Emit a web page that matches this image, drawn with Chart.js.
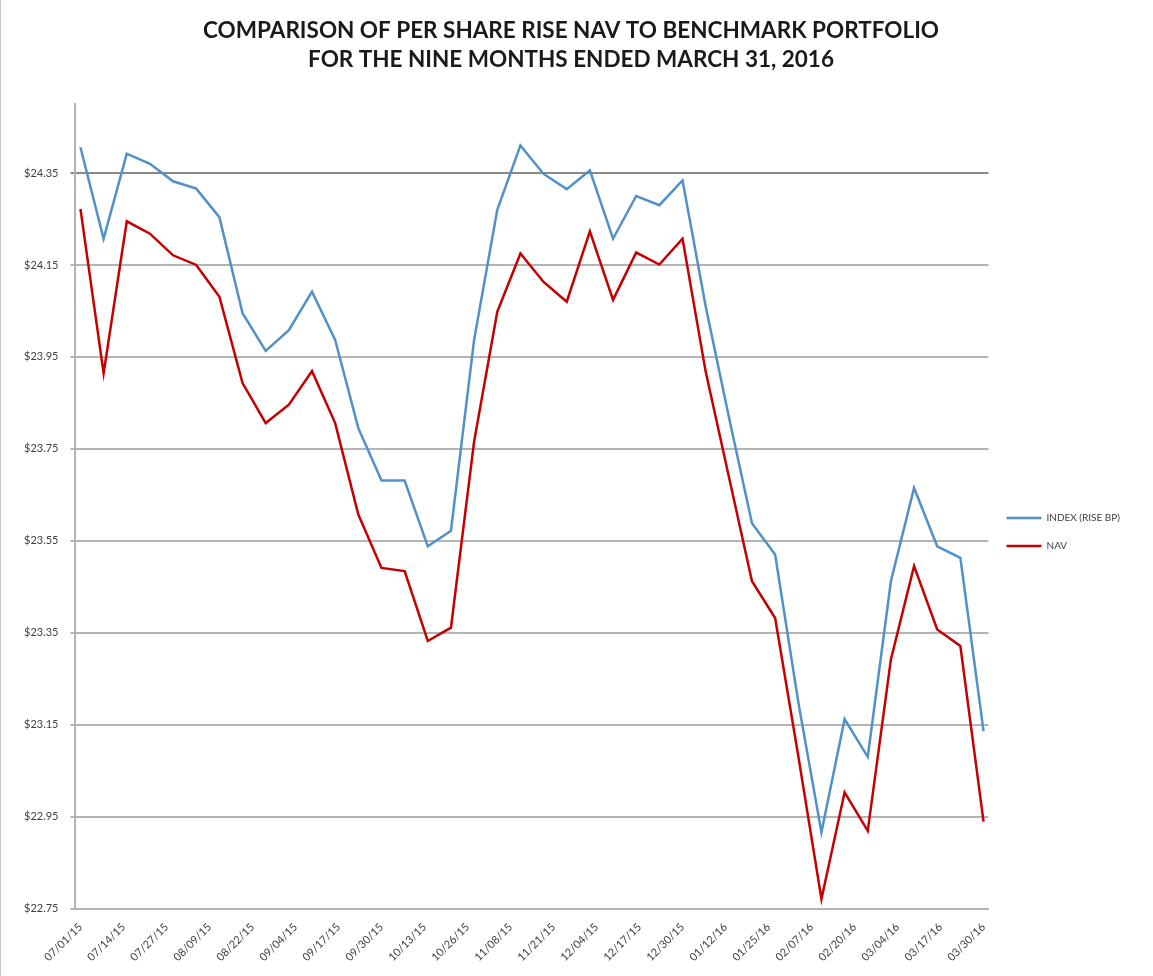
<!DOCTYPE html>
<html>
<head>
<meta charset="utf-8">
<title>Per share RISE NAV vs benchmark</title>
<script src="https://cdn.jsdelivr.net/npm/chart.js@4.4.1/dist/chart.umd.min.js"></script>
<style>
  html, body { margin: 0; padding: 0; background: #fff; }
  #wrap { position: relative; width: 1153px; height: 976px; box-sizing: border-box; border-left: 1px solid #c8c8c8; }
  canvas { display: block; }
</style>
</head>
<body>
<div id="wrap"><canvas id="chart"></canvas></div>
<script>
  // weekly observation dates (Wednesdays)
  const pointDates = [
    '07/01/15', '07/08/15', '07/15/15', '07/22/15', '07/29/15', '08/05/15', '08/12/15', '08/19/15',
    '08/26/15', '09/02/15', '09/09/15', '09/16/15', '09/23/15', '09/30/15', '10/07/15', '10/14/15',
    '10/21/15', '10/28/15', '11/04/15', '11/11/15', '11/18/15', '11/25/15', '12/02/15', '12/09/15',
    '12/16/15', '12/23/15', '12/30/15', '01/06/16', '01/13/16', '01/20/16', '01/27/16', '02/03/16',
    '02/10/16', '02/17/16', '02/24/16', '03/02/16', '03/09/16', '03/16/16', '03/23/16', '03/30/16'
  ];

  const indexValues = [
    24.406, 24.207, 24.392, 24.370, 24.332, 24.316, 24.254, 24.045, 23.963, 24.008,
    24.092, 23.987, 23.795, 23.681, 23.681, 23.538, 23.572, 23.987, 24.270, 24.410,
    24.348, 24.315, 24.356, 24.207, 24.300, 24.280, 24.334, 24.060, 23.820, 23.588,
    23.520, 23.199, 22.916, 23.162, 23.080, 23.462, 23.665, 23.538, 23.513, 23.136
  ];

  const navValues = [
    24.272, 23.914, 24.245, 24.218, 24.171, 24.150, 24.081, 23.893, 23.806, 23.846,
    23.919, 23.806, 23.607, 23.491, 23.484, 23.332, 23.361, 23.766, 24.048, 24.175,
    24.113, 24.070, 24.223, 24.074, 24.177, 24.151, 24.207, 23.918, 23.690, 23.462,
    23.382, 23.082, 22.771, 23.003, 22.919, 23.292, 23.495, 23.357, 23.321, 22.939
  ];

  // x-axis labels, every 13 days
  const xTickLabels = [
    '07/01/15', '07/14/15', '07/27/15', '08/09/15', '08/22/15', '09/04/15', '09/17/15', '09/30/15',
    '10/13/15', '10/26/15', '11/08/15', '11/21/15', '12/04/15', '12/17/15', '12/30/15', '01/12/16',
    '01/25/16', '02/07/16', '02/20/16', '03/04/16', '03/17/16', '03/30/16'
  ];

  const yTickValues = [22.75, 22.95, 23.15, 23.35, 23.55, 23.75, 23.95, 24.15, 24.35];

  const titleLines = [
    'COMPARISON OF PER SHARE RISE NAV TO BENCHMARK PORTFOLIO',
    'FOR THE NINE MONTHS ENDED MARCH 31, 2016'
  ];

  const BLUE = '#5290c8';
  const RED = '#c40000';
  const TEXT = '#404040';
  const GRID = '#b4b4b4';

  // days since 07/01/15 for an MM/DD/YY string
  function dayOf(s) {
    const p = s.split('/').map(Number);
    return (Date.UTC(2000 + p[2], p[0] - 1, p[1]) - Date.UTC(2015, 6, 1)) / 86400000;
  }
  const pts = (vals) => vals.map((v, i) => ({ x: dayOf(pointDates[i]), y: v }));

  new Chart(document.getElementById('chart'), {
    type: 'line',
    data: {
      datasets: [
        { label: 'INDEX (RISE BP)', data: pts(indexValues), borderColor: BLUE, backgroundColor: BLUE,
          borderWidth: 2.5, pointRadius: 0, tension: 0 },
        { label: 'NAV', data: pts(navValues), borderColor: RED, backgroundColor: RED,
          borderWidth: 2.5, pointRadius: 0, tension: 0 },
      ],
    },
    options: {
      responsive: true, maintainAspectRatio: false, animation: false,
      layout: { padding: { left: 11, right: 23, top: 4, bottom: 8 } },
      plugins: {
        title: {
          display: true, text: titleLines, color: '#1a1a1a',
          font: { family: 'Lato', size: 22.5, weight: 'bold', lineHeight: 1.29 },
          padding: { top: 12, bottom: 30 },
        },
        legend: {
          position: 'right', align: 'center',
          // empty legend title only pushes the two items down a little
          title: { display: true, text: '', padding: { top: 84, bottom: 0 }, font: { size: 8, lineHeight: 1 } },
          labels: {
            color: TEXT, font: { family: 'Lato', size: 10 }, padding: 18,
            usePointStyle: true, pointStyle: 'line', pointStyleWidth: 35,
          },
        },
        tooltip: { enabled: false },
      },
      scales: {
        x: {
          type: 'linear', min: -1.5, max: 274.5,
          afterBuildTicks: (scale) => { scale.ticks = xTickLabels.map(l => ({ value: dayOf(l) })); },
          grid: { display: false },
          border: { display: true, color: GRID, width: 2 },
          ticks: {
            autoSkip: false, minRotation: 45, maxRotation: 45, color: TEXT, padding: 4,
            font: { family: 'Lato', size: 11 },
            callback: (v, i) => xTickLabels[i],
          },
        },
        y: {
          min: 22.75, max: 24.5,
          afterBuildTicks: (scale) => { scale.ticks = yTickValues.map(v => ({ value: v })); },
          grid: {
            color: (c) => (c.tick && c.tick.value === 24.35 ? '#8a8a8a' : GRID),
            lineWidth: 2, tickLength: 5,
          },
          border: { display: true, color: GRID, width: 2 },
          ticks: {
            color: TEXT, padding: 12, font: { family: 'Lato', size: 11 },
            callback: (v) => '$' + Number(v).toFixed(2),
          },
        },
      },
    },
  });
</script>
</body>
</html>
